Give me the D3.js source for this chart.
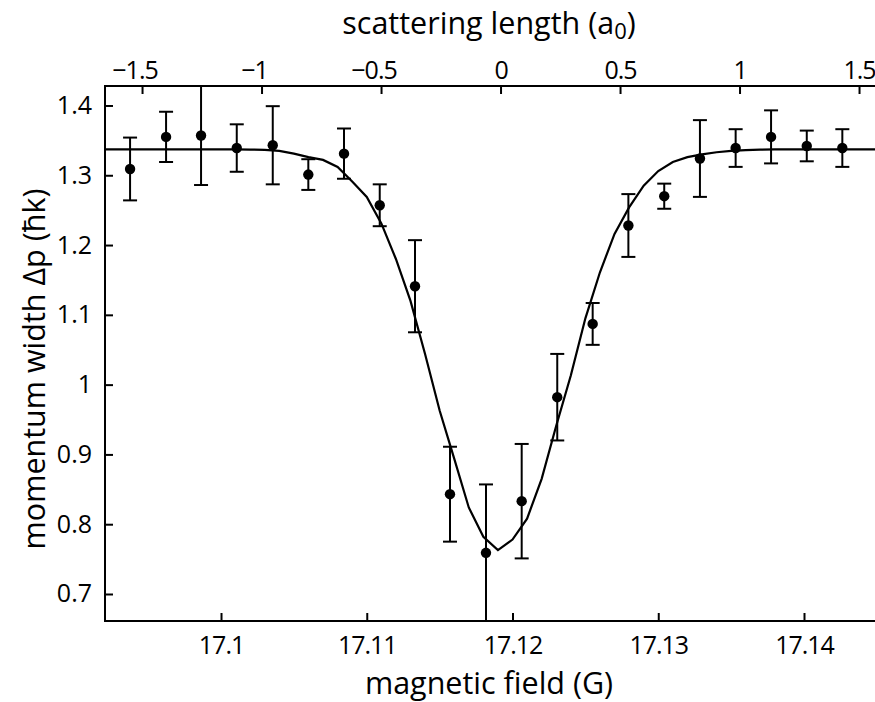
<!DOCTYPE html>
<html>
<head>
<meta charset="utf-8">
<script src="https://cdn.jsdelivr.net/npm/d3@7"></script>
<style>
  body { margin: 0; background: #fff; }
  svg { display: block; }
  .tick text { font-family: "Open Sans", sans-serif; font-size: 25px; fill: #000; }
  .x-axis .tick text { letter-spacing: -1px; }
  .tick line { stroke: #000; stroke-width: 2px; }
  .label { font-family: "Open Sans", sans-serif; font-size: 30.5px; fill: #000; }
</style>
</head>
<body>
<svg id="chart" width="875" height="702"></svg>
<script>
// measured points: magnetic field (G), momentum width (hbar k), error half-width
var field = [17.09376, 17.09623, 17.09863, 17.10108, 17.10355, 17.10599, 17.10844,
             17.11089, 17.11331, 17.11571, 17.11818, 17.12063, 17.12307, 17.12550,
             17.12795, 17.13041, 17.13286, 17.13531, 17.13774, 17.14019, 17.14263];
var width = [1.309, 1.355, 1.357, 1.339, 1.343, 1.301, 1.331,
             1.257, 1.141, 0.843, 0.759, 0.833, 0.982, 1.087,
             1.228, 1.270, 1.324, 1.339, 1.355, 1.342, 1.339];
var err   = [0.045, 0.036, 0.071, 0.034, 0.056, 0.022, 0.036,
             0.030, 0.066, 0.068, 0.098, 0.082, 0.062, 0.030,
             0.045, 0.018, 0.055, 0.027, 0.038, 0.022, 0.027];

// fit curve at 1 mG steps
var fitField = [17.092, 17.093, 17.094, 17.095, 17.096, 17.097, 17.098, 17.099,
                17.100, 17.101, 17.102, 17.103, 17.104, 17.105, 17.106, 17.107,
                17.108, 17.109, 17.110, 17.111, 17.112, 17.113, 17.114, 17.115,
                17.116, 17.117, 17.118, 17.119, 17.120, 17.121, 17.122, 17.123,
                17.124, 17.125, 17.126, 17.127, 17.128, 17.129, 17.130, 17.131,
                17.132, 17.133, 17.134, 17.135, 17.136, 17.137, 17.138, 17.139,
                17.140, 17.141, 17.142, 17.143, 17.144, 17.145];
var fitWidth = [1.337, 1.337, 1.337, 1.337, 1.337, 1.337, 1.337, 1.337,
                1.337, 1.337, 1.3368, 1.3365, 1.335, 1.331, 1.326, 1.322,
                1.312, 1.291, 1.269, 1.231, 1.180, 1.120, 1.044, 0.963,
                0.894, 0.824, 0.782, 0.763, 0.778, 0.808, 0.865, 0.941,
                1.013, 1.095, 1.161, 1.216, 1.254, 1.285, 1.306, 1.319,
                1.326, 1.330, 1.333, 1.335, 1.336, 1.3366, 1.337, 1.337,
                1.337, 1.337, 1.337, 1.337, 1.337, 1.337];

var fieldTicks = [17.1, 17.11, 17.12, 17.13, 17.14];
var lengthTicks = [-1.5, -1, -0.5, 0, 0.5, 1, 1.5];
var widthTicks = [0.7, 0.8, 0.9, 1, 1.1, 1.2, 1.3, 1.4];

var margin = {left: 105, top: 86, right: 876, bottom: 621};

var svg = d3.select('#chart');

var x = d3.scaleLinear().domain([17.09204, 17.14494]).range([margin.left, margin.right]);
var xTop = d3.scaleLinear().domain([-1.655, 1.571]).range([margin.left, margin.right]);
var y = d3.scaleLinear().domain([0.6613, 1.4279]).range([margin.bottom, margin.top]);

svg.append('clipPath').attr('id', 'plot-clip')
    .append('rect')
    .attr('x', margin.left).attr('y', margin.top)
    .attr('width', margin.right - margin.left)
    .attr('height', margin.bottom - margin.top);

// axes, ticks pointing inward
var bottomAxis = svg.append('g').attr('class', 'x-axis')
    .attr('transform', 'translate(0,' + margin.bottom + ')')
    .call(d3.axisBottom(x).tickValues(fieldTicks).tickFormat(d => String(d))
        .tickSize(-8).tickPadding(15));
var topAxis = svg.append('g').attr('class', 'x-axis')
    .attr('transform', 'translate(0,' + margin.top + ')')
    .call(d3.axisTop(xTop).tickValues(lengthTicks)
        .tickFormat(d => d < 0 ? '\u2212' + Math.abs(d) : String(d))
        .tickSize(-8).tickPadding(7));
// minus sign hangs left of the number
topAxis.selectAll('.tick text').attr('dx', d => d < 0 ? '-0.3em' : 0);
var leftAxis = svg.append('g')
    .attr('transform', 'translate(' + margin.left + ',0)')
    .call(d3.axisLeft(y).tickValues(widthTicks).tickFormat(d => String(d))
        .tickSize(-8).tickPadding(13));
[bottomAxis, topAxis, leftAxis].forEach(function (g) {
    g.select('.domain').remove();
});

// frame
svg.append('rect')
    .attr('x', margin.left).attr('y', margin.top)
    .attr('width', margin.right - margin.left)
    .attr('height', margin.bottom - margin.top)
    .attr('fill', 'none').attr('stroke', '#000').attr('stroke-width', 2);

var plot = svg.append('g').attr('clip-path', 'url(#plot-clip)');

// fit line
var line = d3.line()
    .x(function (d, i) { return x(fitField[i]); })
    .y(function (d) { return y(d); });
plot.append('path')
    .datum(fitWidth)
    .attr('d', line)
    .attr('fill', 'none')
    .attr('stroke', '#000')
    .attr('stroke-width', 2.2);

// error bars
var pts = field.map(function (f, i) { return {f: f, w: width[i], e: err[i]}; });
var bars = plot.selectAll('.err').data(pts).enter().append('g').attr('class', 'err')
    .attr('stroke', '#000').attr('stroke-width', 2);
bars.append('line')
    .attr('x1', d => x(d.f)).attr('x2', d => x(d.f))
    .attr('y1', d => y(d.w - d.e)).attr('y2', d => y(d.w + d.e));
bars.append('line')
    .attr('x1', d => x(d.f) - 7).attr('x2', d => x(d.f) + 7)
    .attr('y1', d => y(d.w + d.e)).attr('y2', d => y(d.w + d.e));
bars.append('line')
    .attr('x1', d => x(d.f) - 7).attr('x2', d => x(d.f) + 7)
    .attr('y1', d => y(d.w - d.e)).attr('y2', d => y(d.w - d.e));

plot.selectAll('circle').data(pts).enter().append('circle')
    .attr('cx', d => x(d.f))
    .attr('cy', d => y(d.w))
    .attr('r', 5.2)
    .attr('fill', '#000');

// axis titles
svg.append('text').attr('class', 'label')
    .attr('x', 489).attr('y', 694)
    .attr('font-size', '31.5px')
    .attr('text-anchor', 'middle')
    .text('magnetic field (G)');

var title = svg.append('text').attr('class', 'label')
    .attr('x', 489).attr('y', 34)
    .attr('font-size', '32.5px')
    .attr('text-anchor', 'middle');
title.append('tspan').text('scattering length (a');
title.append('tspan').attr('font-size', '22px').attr('dy', 5).text('0');
title.append('tspan').attr('dy', -5).text(')');

svg.append('text').attr('class', 'label')
    .attr('transform', 'translate(45,369) rotate(-90)')
    .attr('text-anchor', 'middle')
    .text('momentum width \u0394p (\u0127k)');
</script>
</body>
</html>
